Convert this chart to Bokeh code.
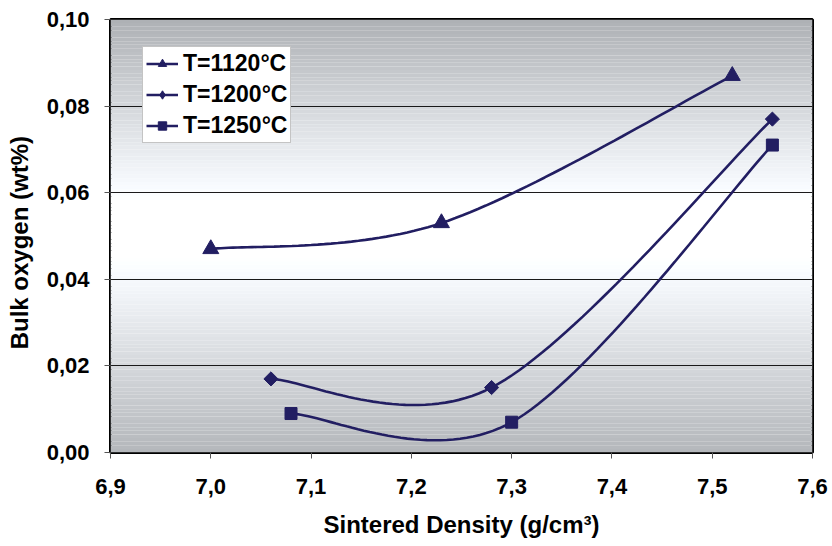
import numpy as np
from bokeh.plotting import figure
from bokeh.models import FixedTicker, CustomJSTickFormatter, Legend, LegendItem
from bokeh.embed import file_html
from bokeh.resources import INLINE

# ---- data ----
labels = ["T=1120°C", "T=1200°C", "T=1250°C"]
x_1120 = [7.00, 7.23, 7.52]
y_1120 = [0.047, 0.053, 0.087]
x_1200 = [7.06, 7.28, 7.56]
y_1200 = [0.017, 0.015, 0.077]
x_1250 = [7.08, 7.30, 7.56]
y_1250 = [0.009, 0.007, 0.071]
x_ticks = [6.9, 7.0, 7.1, 7.2, 7.3, 7.4, 7.5, 7.6]
y_ticks = [0.0, 0.02, 0.04, 0.06, 0.08, 0.10]

NAVY = "#221e62"
FONT = "Liberation Sans"

p = figure(width=832, height=546, output_backend="svg", toolbar_location=None,
           x_range=(6.9, 7.6), y_range=(0.0, 0.10),
           min_border_left=110, min_border_right=20, min_border_top=19,
           min_border_bottom=94)
p.background_fill_color = "white"
p.border_fill_color = "white"

# vertical gradient background (style)
n = 120
edges = np.linspace(0.0, 0.10, n + 1)
mids = (edges[:-1] + edges[1:]) / 2
stops_y = [0.0, 0.045, 0.058, 0.10]
stops_v = [180, 255, 255, 174]
vals = np.interp(mids, stops_y, stops_v)
cols = ["#%02x%02x%02x" % (int(v), int(min(255, v + 3)), int(min(255, v + 7))) for v in vals]
p.quad(left=6.9, right=7.6, bottom=edges[:-1], top=edges[1:], fill_color=cols,
       line_color=None, level="image")

p.xgrid.grid_line_color = None
p.ygrid.grid_line_color = "#1a1a1a"
p.ygrid.grid_line_width = 1
p.ygrid.level = "underlay"

def smooth(xs, ys, m=40):
    P = np.column_stack([xs, ys]).astype(float)
    k = len(P)
    out = []
    for i in range(k - 1):
        p0 = P[i]; p3 = P[i + 1]
        pm = P[i - 1] if i > 0 else P[i]
        pp = P[i + 2] if i + 2 < k else P[i + 1]
        c1 = p0 + (p3 - pm) / 6.0
        c2 = p3 - (pp - p0) / 6.0
        t = np.linspace(0, 1, m)[:, None]
        b = ((1 - t) ** 3) * p0 + 3 * ((1 - t) ** 2) * t * c1 + 3 * (1 - t) * t ** 2 * c2 + t ** 3 * p3
        out.append(b if i == 0 else b[1:])
    b = np.vstack(out)
    return b[:, 0], b[:, 1]

items = []
series = [(x_1120, y_1120, "triangle", 16, 0.0, "triangle", 14),
          (x_1200, y_1200, "square", 10, np.pi / 4, "diamond", 15),
          (x_1250, y_1250, "square", 12, 0.0, "square", 12)]
for (xs, ys, mk, sz, ang, lmk, lsz), lab in zip(series, labels):
    sx, sy = smooth(xs, ys)
    r1 = p.line(sx, sy, line_color=NAVY, line_width=2.6)
    p.scatter(xs, ys, marker=mk, size=sz, angle=ang, fill_color=NAVY, line_color=NAVY)
    # legend-only marker (no data points drawn)
    r3 = p.scatter(x=[np.nan], y=[np.nan], marker=lmk, size=lsz, fill_color=NAVY, line_color=NAVY)
    items.append(LegendItem(label=lab, renderers=[r1, r3]))

leg = Legend(items=items, location=(32, 309))
leg.label_text_font = FONT
leg.label_text_font_style = "bold"
leg.label_text_font_size = "23px"
leg.label_text_color = "black"
leg.glyph_width = 32
leg.glyph_height = 21
leg.label_height = 21
leg.spacing = 4
leg.padding = 3
leg.margin = 0
leg.label_standoff = 5
leg.border_line_color = "#8a8a8a"
leg.border_line_width = 1
leg.background_fill_color = "white"
leg.background_fill_alpha = 1
p.add_layout(leg, "center")

p.outline_line_color = "black"
p.outline_line_width = 3

fmt = CustomJSTickFormatter(code="return tick.toFixed(2).replace('.', ',');")
fmtx = CustomJSTickFormatter(code="return tick.toFixed(1).replace('.', ',');")
p.xaxis.ticker = FixedTicker(ticks=x_ticks)
p.yaxis.ticker = FixedTicker(ticks=y_ticks)
p.yaxis.formatter = fmt
p.xaxis.formatter = fmtx
for ax in (p.xaxis, p.yaxis):
    ax.axis_line_color = None
    ax.major_tick_in = 0
    ax.major_tick_out = 6
    ax.major_tick_line_color = "#555555"
    ax.minor_tick_line_color = None
    ax.major_label_text_font = FONT
    ax.major_label_text_font_style = "bold"
    ax.major_label_text_font_size = "22px"
    ax.major_label_text_color = "black"
    ax.axis_label_text_font = FONT
    ax.axis_label_text_font_style = "bold"
    ax.axis_label_text_color = "black"
p.xaxis.axis_label_text_font_size = "24px"
p.yaxis.axis_label_text_font_size = "24px"
p.xaxis.major_label_standoff = 20
p.yaxis.major_label_standoff = 15
p.xaxis.axis_label = "Sintered Density (g/cm³)"
p.yaxis.axis_label = "Bulk oxygen (wt%)  "
p.xaxis.axis_label_standoff = 14
p.yaxis.axis_label_standoff = 11

open("out.html", "w").write(file_html(p, INLINE))
